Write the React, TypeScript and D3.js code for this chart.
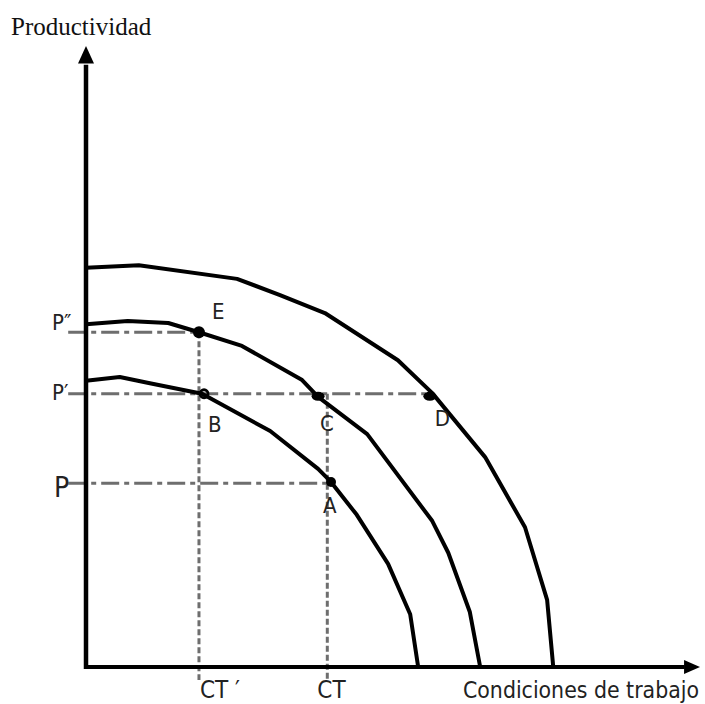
import React, { useEffect, useRef } from "react";
import * as d3 from "d3";

// curves (x = condiciones de trabajo, y = productividad)
const innerX = [0, 0.55, 1.04, 1.89, 3.0, 3.78, 3.99, 4.41, 4.92, 5.28, 5.41];
const innerY = [4.61, 4.67, 4.57, 4.4, 3.8, 3.19, 2.98, 2.45, 1.66, 0.85, 0];
const middleX = [0, 0.68, 1.34, 1.84, 2.54, 3.52, 3.78, 4.58, 5.64, 5.9, 6.25, 6.42];
const middleY = [5.52, 5.57, 5.54, 5.39, 5.17, 4.62, 4.35, 3.75, 2.35, 1.84, 0.89, 0];
const outerX = [0, 0.86, 2.46, 3.16, 3.89, 5.08, 5.64, 6.5, 7.15, 7.51, 7.61];
const outerY = [6.43, 6.47, 6.25, 5.99, 5.7, 4.94, 4.41, 3.38, 2.25, 1.08, 0];

// guide levels
const levelLabels = ["P″", "P′", "P"];
const levelY = [5.39, 4.4, 2.96];
const levelEndX = [1.84, 5.64, 3.99];
const ctLabels = ["CT ′", "CT"];
const ctX = [1.84, 3.93];
const ctTopY = [5.39, 4.4];

// labelled points
const pointLabels = ["E", "B", "C", "D", "A"];
const pointX = [1.84, 1.89, 3.78, 5.6, 3.99];
const pointY = [5.39, 4.4, 4.36, 4.36, 2.98];

const W = 705;
const H = 704;
const SANS = "'Liberation Sans Narrow', 'DejaVu Sans Condensed', 'Roboto', sans-serif";
const GUIDE = "#6e6e6e";

const App = () => {
    const svgRef = useRef<SVGSVGElement | null>(null);

    useEffect(() => {
        if (!svgRef.current) return;
        const svg = d3.select(svgRef.current);
        svg.selectAll("*").remove();

        const x = d3.scaleLinear().domain([0, 10]).range([86, 700]);
        const y = d3.scaleLinear().domain([0, 10]).range([667, 46]);

        // ── Guides (drawn first, under the curves) ─────────────────────
        levelY.forEach((v, i) => {
            svg.append("line")
                .attr("x1", x(-0.29)).attr("x2", x(levelEndX[i]))
                .attr("y1", y(v)).attr("y2", y(v))
                .attr("stroke", GUIDE).attr("stroke-width", 3)
                .attr("stroke-dasharray", "18,5,5,5");
        });
        ctX.forEach((v, i) => {
            svg.append("line")
                .attr("x1", x(v)).attr("x2", x(v))
                .attr("y1", y(ctTopY[i])).attr("y2", y(-0.21))
                .attr("stroke", GUIDE).attr("stroke-width", 3)
                .attr("stroke-dasharray", "6,3");
        });

        // ── Axes ───────────────────────────────────────────────────────
        svg.append("line")
            .attr("x1", x(0)).attr("x2", x(0))
            .attr("y1", y(0) + 2).attr("y2", y(9.7))
            .attr("stroke", "#000").attr("stroke-width", 4.5);
        svg.append("path")
            .attr("d", `M${x(0)},${y(10)} L${x(0) - 8},${y(9.72)} L${x(0) + 8},${y(9.72)} Z`)
            .attr("fill", "#000");
        svg.append("line")
            .attr("x1", x(0) - 2).attr("x2", x(9.75))
            .attr("y1", y(0)).attr("y2", y(0))
            .attr("stroke", "#000").attr("stroke-width", 4);
        svg.append("path")
            .attr("d", `M${x(10)},${y(0)} L${x(9.74)},${y(0) - 7} L${x(9.74)},${y(0) + 7} Z`)
            .attr("fill", "#000");

        // ── Frontier curves ────────────────────────────────────────────
        const line = d3.line<[number, number]>()
            .x(d => x(d[0])).y(d => y(d[1]))
            .curve(d3.curveLinear);
        [[innerX, innerY], [middleX, middleY], [outerX, outerY]].forEach(([xs, ys]) => {
            svg.append("path")
                .attr("d", line(xs.map((v, i) => [v, ys[i]] as [number, number])))
                .attr("fill", "none").attr("stroke", "#000")
                .attr("stroke-width", 4).attr("stroke-linejoin", "round");
        });

        // ── Points ─────────────────────────────────────────────────────
        pointLabels.forEach((lab, i) => {
            const cx = x(pointX[i]);
            const cy = y(pointY[i]);
            if (lab === "B") {
                svg.append("circle").attr("cx", cx + 2).attr("cy", cy).attr("r", 4)
                    .attr("fill", "none").attr("stroke", "#000").attr("stroke-width", 2.8);
            } else if (lab === "C" || lab === "D") {
                svg.append("ellipse").attr("cx", cx).attr("cy", cy).attr("rx", 6.5).attr("ry", 4.5)
                    .attr("fill", "#000");
            } else {
                svg.append("circle").attr("cx", cx).attr("cy", cy).attr("r", lab === "E" ? 6 : 5)
                    .attr("fill", "#000");
            }
        });

        // ── Labels ─────────────────────────────────────────────────────
        const labelOffset: Record<string, [number, number]> = {
            E: [13, -13], B: [6, 38], C: [2, 35], D: [5, 30], A: [-8, 31],
        };
        pointLabels.forEach((lab, i) => {
            const [dx, dy] = labelOffset[lab];
            svg.append("text")
                .attr("x", x(pointX[i]) + dx).attr("y", y(pointY[i]) + dy)
                .attr("font-family", SANS).attr("font-size", "22px").attr("fill", "#222")
                .text(lab);
        });
        levelLabels.forEach((lab, i) => {
            svg.append("text")
                .attr("x", lab === "P" ? 54 : 52)
                .attr("y", y(levelY[i]) + (lab === "P" ? 14 : lab === "P′" ? 6 : -2))
                .attr("font-family", SANS).attr("font-size", lab === "P" ? "28px" : "22px")
                .attr("fill", "#222")
                .text(lab);
        });
        ctLabels.forEach((lab, i) => {
            svg.append("text")
                .attr("x", x(ctX[i]) + (lab === "CT" ? -10 : 1)).attr("y", 698)
                .attr("font-family", SANS).attr("font-size", "24px").attr("fill", "#222")
                .text(lab);
        });
        svg.append("text")
            .attr("x", 463).attr("y", 698)
            .attr("font-family", SANS).attr("font-size", "23px").attr("fill", "#222")
            .attr("textLength", 236).attr("lengthAdjust", "spacingAndGlyphs")
            .text("Condiciones de trabajo");
        svg.append("text")
            .attr("x", 11).attr("y", 35)
            .attr("font-family", "'Liberation Serif', 'DejaVu Serif', serif")
            .attr("font-size", "25px").attr("fill", "#111")
            .text("Productividad");
    }, []);

    return (
        <svg
            ref={svgRef}
            width={W}
            height={H}
            style={{ position: "absolute", left: 0, top: 0, background: "#fff" }}
        />
    );
};

export default App;
